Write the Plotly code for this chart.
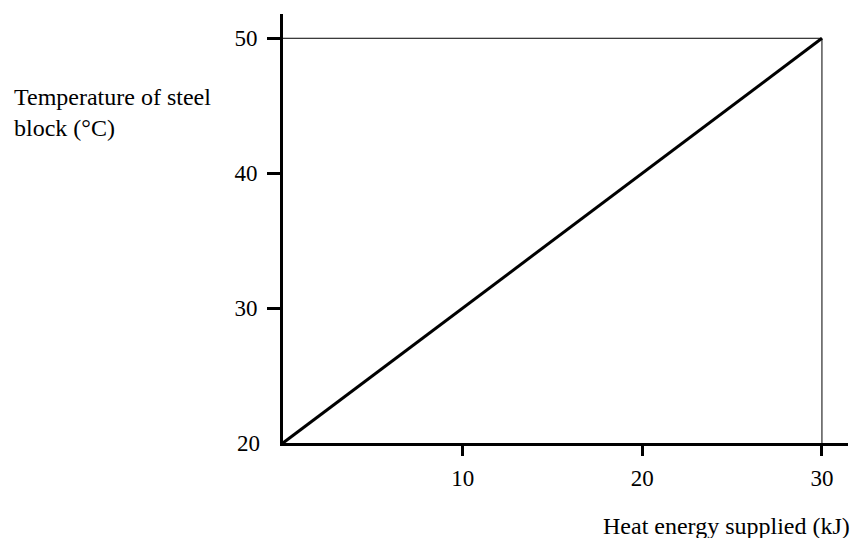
import plotly.graph_objects as go

# values
energy_kj = [0, 30]
temp_c = [20, 50]
x_ticks = [10, 20, 30]
y_ticks = [30, 40, 50]
y_base = [20]

FONT = "Liberation Serif, Times New Roman, serif"

# plot area in page pixels
L, R, T, B = 283, 848, 14, 443
PW, PH = R - L, B - T

fig = go.Figure()

# guide lines to the end point
fig.add_trace(go.Scatter(
    x=[energy_kj[0], energy_kj[1], energy_kj[1]],
    y=[temp_c[1], temp_c[1], temp_c[0]],
    mode="lines", line=dict(color="black", width=1), hoverinfo="skip",
))

fig.add_trace(go.Scatter(
    x=energy_kj, y=temp_c, mode="lines",
    line=dict(color="black", width=3),
))

# second y axis only to label the origin value without a tick mark
fig.add_trace(go.Scatter(x=[None], y=[None], yaxis="y2", showlegend=False))

fig.update_layout(
    width=854, height=538,
    margin=dict(l=L, r=854 - R, t=T, b=538 - B),
    paper_bgcolor="white", plot_bgcolor="white",
    showlegend=False,
    font=dict(family=FONT, size=23, color="black"),
    xaxis=dict(
        range=[0, 31.45], tickvals=x_ticks, ticks="outside", ticklen=10,
        tickwidth=3, tickcolor="black", showline=True, linewidth=3,
        linecolor="black", showgrid=False, zeroline=False,
        ticklabelstandoff=2,
    ),
    yaxis=dict(
        range=[20, 51.8], tickvals=y_ticks, ticks="outside", ticklen=13,
        tickwidth=3, tickcolor="black", showline=True, linewidth=3,
        linecolor="black", showgrid=False, zeroline=False,
        ticklabelstandoff=5,
    ),
    yaxis2=dict(
        range=[20, 51.8], overlaying="y", side="left", tickvals=y_base,
        ticks="", showline=False, showgrid=False, zeroline=False,
        ticklabelstandoff=22,
    ),
    annotations=[
        dict(text="Temperature of steel<br>block (°C)", xref="paper", yref="paper",
             x=(12 - L) / PW, y=1 - (82 - T) / PH, xanchor="left", yanchor="top",
             align="left", showarrow=False, font=dict(family=FONT, size=24)),
        dict(text="Heat energy supplied (kJ)", xref="paper", yref="paper",
             x=(852 - L) / PW, y=-(526 - B) / PH, xanchor="right", yanchor="middle",
             showarrow=False, font=dict(family=FONT, size=24)),
    ],
)

# drop the page's default body margin so the figure fills the window
fig.write_html(
    "out.html",
    config={"displayModeBar": False},
    post_script="document.body.style.margin='0';document.body.style.overflow='hidden';",
)
